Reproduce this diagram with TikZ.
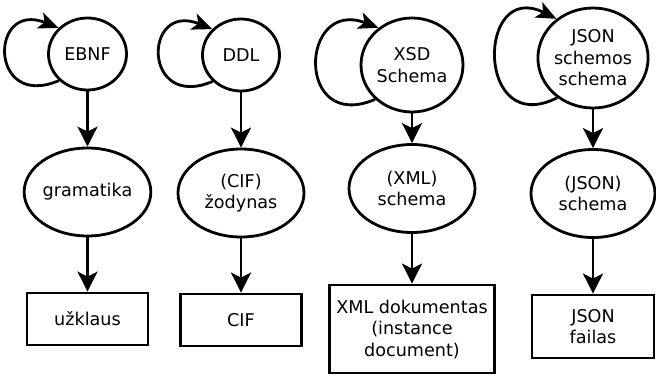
\documentclass[tikz,border=0pt]{standalone}
\usepackage{fontspec}
\setmainfont{DejaVu Sans}
\usetikzlibrary{shapes.geometric,arrows.meta}
\begin{document}
\begin{tikzpicture}[x=1pt,y=-1pt,
  every node/.style={font=\fontsize{17.6}{21.5}\selectfont, align=center, inner sep=0pt},
  lw/.style={line width=2.8pt},
  circ/.style={lw, draw, ellipse},
  ell/.style={lw, draw, ellipse, minimum width=126pt, minimum height=88pt},
  box/.style={lw, draw, rectangle},
  arr/.style={lw, -{Stealth[length=20pt,width=20pt,inset=5pt]}},
  loop/.style={lw, -{Stealth[length=20pt,width=17pt,inset=5pt]}}]
\useasboundingbox (0,0) rectangle (656,375);
% column 1
\node[circ, minimum width=78pt, minimum height=72pt] (c1) at (87.5,54) {EBNF};
\node[ell] (e1) at (87.5,192) {gramatika};
\node[box, minimum width=121pt, minimum height=52pt] (b1) at (87.5,319) {užklaus};
% column 2
\node[circ, minimum width=77pt, minimum height=72pt] (c2) at (241,55) {DDL};
\node[ell] (e2) at (241,193) {(CIF)\\žodynas};
\node[box, minimum width=121pt, minimum height=52pt] (b2) at (241,320) {CIF};
% column 3
\node[circ, minimum width=102pt, minimum height=94pt] (c3) at (412,65) {XSD\\Schema};
\node[ell] (e3) at (412,188.5) {(XML)\\schema};
\node[box, minimum width=165pt, minimum height=88pt] (b3) at (412,329) {XML dokumentas\\(instance\\document)};
% column 4
\node[circ, minimum width=97pt, minimum height=100pt] (c4) at (593,58) {JSON\\schemos\\schema};
\node[ell, minimum width=124pt] (e4) at (593,193.5) {(JSON)\\schema};
\node[box, minimum width=122pt, minimum height=63pt] (b4) at (593,326.5) {JSON\\failas};
% vertical arrows
\foreach \i in {1,2,3,4}{
  \draw[arr] (c\i.south) -- (e\i.north);
  \draw[arr] (e\i.south) -- (b\i.north);
}
% self loops
\draw[loop] (c1.223) .. controls +(-70.5,30) and +(-69.5,-28) .. (c1.138);
\draw[loop] (c2.223) .. controls +(-70.5,30) and +(-69.5,-28) .. (c2.138);
\draw[loop] (c3.223) .. controls +(-80,34) and +(-79,-30) .. (c3.132);
\draw[loop] (c4.228) .. controls +(-82,41.5) and +(-80,-40) .. (c4.133);
\end{tikzpicture}
\end{document}
